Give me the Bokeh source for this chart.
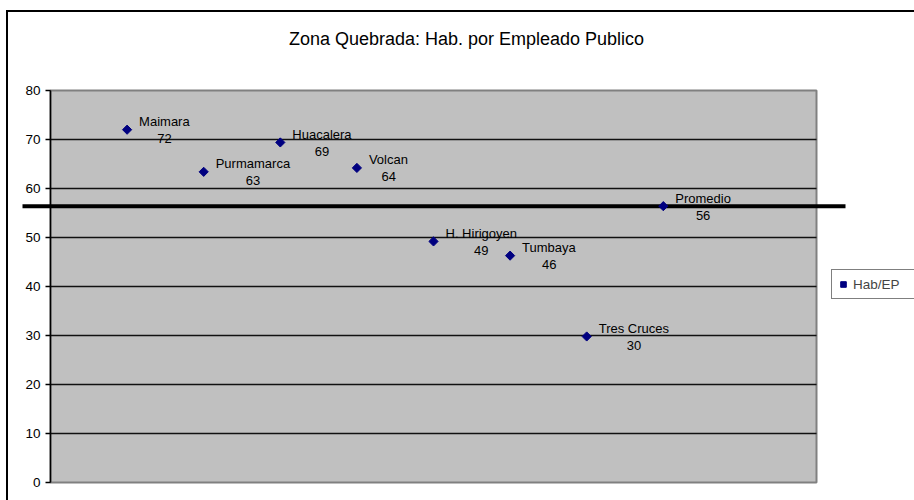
from bokeh.plotting import figure
from bokeh.models import (ColumnDataSource, Range1d, FixedTicker,
                          Label, Legend, LegendItem, InlineStyleSheet)
from bokeh.embed import file_html
from bokeh.resources import INLINE
from bokeh.core.properties import value

# ---- data ----
names = ["Maimara", "Purmamarca", "Huacalera", "Volcan", "H. Hirigoyen",
         "Tumbaya", "Tres Cruces", "Promedio"]
positions = [1, 2, 3, 4, 5, 6, 7, 8]
hab_ep = [72.0, 63.4, 69.4, 64.2, 49.2, 46.3, 29.8, 56.4]
average = 56.4
y_ticks = [0, 10, 20, 30, 40, 50, 60, 70, 80]
x_max = 10
title_text = "Zona Quebrada: Hab. por Empleado Publico"
series_name = "Hab/EP"

# ---- layout (pixels on the canvas) ----
W, H = 914, 500
PLOT_L, PLOT_R, PLOT_T, PLOT_B = 50, 816, 90, 482
FONT = "Liberation Sans"
LABEL_PX = 13

y_min, y_max = y_ticks[0], y_ticks[-1]
kx = (PLOT_R - PLOT_L) / (x_max - 0)
ky = (PLOT_B - PLOT_T) / (y_max - y_min)


def px_to_x(px):
    return (px - PLOT_L) / kx


def px_to_y(py):
    return y_min + (PLOT_B - py) / ky


# Arial/Liberation Sans advance widths (per 1000 em) used to centre the value under its name
ADV = {'M': 833, 'a': 556, 'i': 222, 'm': 833, 'r': 333, 'P': 667, 'u': 556, 'c': 500,
       'H': 722, 'l': 222, 'e': 556, 'V': 667, 'o': 556, 'n': 556, '.': 278, ' ': 278,
       'g': 556, 'y': 500, 'T': 611, 'b': 556, 's': 500, 'C': 722, 'd': 556}


def text_width(s, px):
    return sum(ADV.get(ch, 556) for ch in s) / 1000.0 * px


name_dx = 12
num_labels = [f"{v:.0f}" for v in hab_ep]
num_dx = [name_dx + text_width(n, LABEL_PX) / 2.0 for n in names]

src = ColumnDataSource(dict(x=positions, y=hab_ep, name=names, num=num_labels, num_dx=num_dx))

# the frame covers the whole canvas; the grey plot area is drawn in data space
x_range = Range1d(px_to_x(0), px_to_x(W))
y_range = Range1d(px_to_y(H), px_to_y(0))

p = figure(width=W, height=H, output_backend="svg", toolbar_location=None,
           x_range=x_range, y_range=y_range,
           min_border=0, min_border_left=0, min_border_right=0,
           min_border_top=0, min_border_bottom=0)

p.background_fill_color = "white"
p.border_fill_color = "white"
p.outline_line_color = None
p.xaxis.visible = False
p.xgrid.visible = False
p.ygrid.visible = False

# chart outer border (top and left edges) as a page decoration
p.stylesheets = [InlineStyleSheet(css=(
    ":host { position: relative; }"
    ":host::after { content: ''; position: absolute; left: 6px; top: 10px; right: 0; bottom: 0;"
    " border-left: 2px solid black; border-top: 2px solid black; pointer-events: none; }"
))]

# plot area
p.quad(left=[0], right=[x_max], bottom=[y_min], top=[y_max],
       fill_color="#C0C0C0", line_color="#808080", line_width=2)

# horizontal grid lines
grid_vals = y_ticks[1:-1]
p.segment(x0=[0] * len(grid_vals), x1=[x_max] * len(grid_vals), y0=grid_vals, y1=grid_vals,
          line_color="#111111", line_width=1.5)

# y axis placed on the plot area's left edge
ax = p.yaxis[0]
ax.fixed_location = 0
ax.bounds = (y_min, y_max)
ax.ticker = FixedTicker(ticks=y_ticks)
ax.axis_line_color = "black"
ax.axis_line_width = 1.5
ax.major_tick_line_color = "black"
ax.major_tick_line_width = 1.5
ax.major_tick_out = 5
ax.major_tick_in = 0
ax.minor_tick_line_color = None
ax.major_label_standoff = 5
ax.major_label_text_font = FONT
ax.major_label_text_font_size = "13.5px"
ax.major_label_text_color = "black"

# average line (a drawn shape that runs past the plot area on both sides)
p.segment(x0=[px_to_x(22)], x1=[px_to_x(845)],
          y0=[average], y1=[average], line_color="black", line_width=4)

pts = p.scatter("x", "y", source=src, marker="square", angle=0.785398, size=6.5,
                fill_color="#000080", line_color="#000080")

p.text("x", "y", text="name", source=src, x_offset=name_dx, y_offset=-8,
       text_font=value(FONT), text_font_size=f"{LABEL_PX}px", text_color="black",
       text_align="left", text_baseline="middle")
p.text("x", "y", text="num", source=src, x_offset="num_dx", y_offset=9,
       text_font=value(FONT), text_font_size=f"{LABEL_PX}px", text_color="black",
       text_align="center", text_baseline="middle")

title = Label(x=466, y=38, x_units="canvas", y_units="canvas", text=title_text,
              text_font=FONT, text_font_size="18px", text_color="black",
              text_align="center", text_baseline="middle")
p.add_layout(title)

legend = Legend(items=[LegendItem(label=series_name, renderers=[pts])],
                location=(831, H - 299), padding=4, margin=0, spacing=0,
                glyph_width=14, glyph_height=14, label_standoff=3, label_width=70,
                label_height=20,
                label_text_font=FONT, label_text_font_size="13.5px",
                border_line_color="black", border_line_width=1,
                background_fill_color="white", background_fill_alpha=1.0)
p.add_layout(legend)

open("out.html", "w").write(file_html(p, INLINE))
